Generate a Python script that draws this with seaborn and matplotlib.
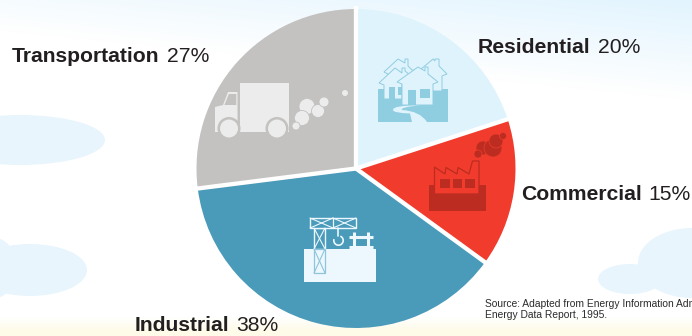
import numpy as np
import matplotlib
matplotlib.use("Agg")
import matplotlib.pyplot as plt
from matplotlib.patches import Circle, Ellipse, Polygon, Rectangle, PathPatch
from matplotlib.path import Path
import seaborn as sns

# Energy use by sector, percent
sectors = ["Residential", "Commercial", "Industrial", "Transportation"]
shares = [20, 15, 38, 27]
source_lines = ["Source: Adapted from Energy Information Administration, Annual",
                "Energy Data Report, 1995."]

palette = sns.color_palette(["#dff3fc", "#f13c2d", "#4a9aba", "#c3c2c0"])

sns.set_theme(style="white")
plt.rcParams["font.family"] = ["Liberation Sans", "DejaVu Sans"]

W, H = 692, 336
fig = plt.figure(figsize=(W / 100, H / 100), dpi=100)


def pixel_axes(zorder):
    """Full-figure axes whose units are pixels, origin top left."""
    a = fig.add_axes([0, 0, 1, 1], zorder=zorder)
    a.set_xlim(0, W)
    a.set_ylim(H, 0)
    a.axis("off")
    a.patch.set_alpha(0)
    return a


# Backdrop: pale sky fading to white, warm glow along the lower edge
bg = pixel_axes(0)
yy, xx = np.mgrid[0:H, 0:W]
sky = np.clip(1 - (yy + (W - xx) * 0.1) / 100, 0, 1)[..., None]
glow = np.clip((yy - 316) / 14, 0, 1)[..., None]
white = np.array([1.0, 1.0, 1.0])
sky_c = np.array([0xe2, 0xf4, 0xfe]) / 255
glow_c = np.array([0xfe, 0xfb, 0xe9]) / 255
img = white + (sky_c - white) * sky + (glow_c - white) * glow
bg.imshow(img, extent=(0, W, H, 0), aspect="auto", zorder=0)
bg.set_xlim(0, W)
bg.set_ylim(H, 0)

cloud = "#e8f5fd"
for (cx, cy, w, h) in [(20, 140, 170, 50), (30, 270, 114, 52), (-12, 268, 60, 64),
                       (692, 263, 108, 70), (630, 279, 64, 30)]:
    bg.add_patch(Ellipse((cx, cy), w, h, fc=cloud, ec="none", zorder=1))

# The pie itself
cx0, cy0, radius = 356, 168.5, 159.5
pie_ax = fig.add_axes([(cx0 - radius) / W, (H - cy0 - radius) / H,
                       2 * radius / W, 2 * radius / H], zorder=1)
wedges, _ = pie_ax.pie(shares, colors=palette, startangle=90, counterclock=False,
                       radius=1.0, wedgeprops={"linewidth": 0})
pie_ax.set_xlim(-1, 1)
pie_ax.set_ylim(-1, 1)
for w in wedges:
    w.set_clip_on(False)
    a = np.deg2rad(w.theta1)
    pie_ax.plot([0, 1.02 * np.cos(a)], [0, 1.02 * np.sin(a)], color="white",
                lw=3.1, solid_capstyle="butt", clip_on=False, zorder=5)

fg = pixel_axes(2)


def disc(x, y, r, fc, ec="none", lw=0.0):
    fg.add_patch(Circle((x, y), r, fc=fc, ec=ec, lw=lw))


def poly(pts, fc, ec="none", lw=0.0):
    fg.add_patch(Polygon(pts, closed=True, fc=fc, ec=ec, lw=lw, joinstyle="miter"))


def box(x0, y0, x1, y1, fc, ec="none", lw=0.0):
    fg.add_patch(Rectangle((x0, y0), x1 - x0, y1 - y0, fc=fc, ec=ec, lw=lw))


# Truck
pale_grey, grey = "#ebecEB", palette[3]
box(239.5, 83, 289, 132, pale_grey)
poly([(215, 132), (215, 107), (223, 105), (228, 92), (237.5, 92), (237.5, 132)], pale_grey)
poly([(224.5, 105), (228.8, 94), (236.3, 94), (236.3, 105)], grey)
for wx in (229, 277):
    disc(wx, 128.5, 11.5, grey)
    disc(wx, 128.5, 9, pale_grey)
for (sx, sy, r) in [(307, 106.5, 8), (302, 118, 7.5), (318, 111, 6.5), (324, 102, 5),
                    (296, 126, 4)]:
    disc(sx, sy, r, pale_grey, grey, 0.6)
disc(345, 93, 3, pale_grey)

# Houses
house_bg, house_line = palette[0], "#8fcde0"
box(378, 89, 448, 122, house_line)
poly([(398, 59), (384, 72), (388, 74), (388, 92), (428, 92), (428, 72), (412, 70),
      (408, 66), (408, 59), (405, 59), (405, 63)], house_bg, house_line, 0.7)
poly([(433, 59), (420, 70), (425, 74), (425, 91), (442, 91), (442, 76), (447, 74),
      (439, 66), (439, 59), (435, 59), (435, 61)], house_bg, house_line, 0.7)
poly([(395, 68), (379, 83), (384, 85), (384, 99), (402, 99), (402, 80), (410, 75),
      (405, 71), (405, 68), (402, 68), (402, 73)], house_bg, house_line, 0.7)
box(388.5, 87, 395, 99, house_line)
box(398, 87, 402, 95, house_line)
poly([(418, 67), (397, 82), (402, 84), (402, 105), (433, 105), (433, 84), (438, 82),
      (428, 74), (428, 67), (425, 67), (425, 71)], house_bg, house_line, 0.7)
box(408, 90, 416, 105, house_line)
box(420, 89, 430, 98, house_line)
road = Path([(420, 105.5), (393, 105), (393, 110),
             (393, 113), (410, 113.5), (412, 122),
             (427, 122), (420, 111), (402, 110),
             (400, 107), (420, 105.5), (420, 105.5)],
            [Path.MOVETO, Path.CURVE3, Path.CURVE3,
             Path.CURVE3, Path.CURVE3, Path.LINETO,
             Path.LINETO, Path.CURVE3, Path.CURVE3,
             Path.CURVE3, Path.CURVE3, Path.CLOSEPOLY])
fg.add_patch(PathPatch(road, fc=house_bg, ec="none"))

# Factory
red, dark = palette[1], "#bc2c20"
box(429, 185, 486, 211, dark)
poly([(434.5, 194), (434.5, 167), (445, 174), (446, 167.5), (457, 174), (458, 167.5), (469, 174),
      (472.5, 161), (479, 161), (479, 194)], red, dark, 0.9)
for wx in (440, 452.5, 465):
    box(wx, 179, wx + 9.5, 188, dark)
for (sx, sy, r) in [(483, 148, 7), (493, 148, 9), (496, 141, 7), (503, 136, 3.5), (478, 154, 4)]:
    disc(sx, sy, r, dark, red, 0.5)

# Crane and building site
steel, site = palette[2], "#ecf8fe"
box(304, 249, 376, 282, site)
box(314, 228, 325, 249, steel, site, 1.0)
box(314, 249, 325, 273, site, "#8fc4da", 0.9)
box(310, 218, 356, 228, steel, site, 1.0)
fg.plot([333, 333], [218, 228], color=site, lw=0.9)
for (x0, x1) in [(310, 333), (333, 356)]:
    fg.plot([x0, x1], [218, 228], color=site, lw=0.8)
    fg.plot([x0, x1], [228, 218], color=site, lw=0.8)
fg.plot([314, 325], [228, 249], color=site, lw=0.8)
fg.plot([314, 325], [249, 228], color=site, lw=0.8)
fg.plot([314, 325], [249, 273], color="#8fc4da", lw=0.8)
fg.plot([314, 325], [273, 249], color="#8fc4da", lw=0.8)
fg.plot([338, 338], [228, 236], color=site, lw=1.2)
t = np.deg2rad(np.linspace(-60, 190, 30))
fg.plot(338.5 + 4.7 * np.cos(t), 240.5 + 4.7 * np.sin(t), color=site, lw=1.2)
for vx in (354, 368):
    fg.plot([vx, vx], [232, 254], color=site, lw=2.2, solid_capstyle="butt")
for hy in (237, 247):
    fg.plot([349, 373], [hy, hy], color=site, lw=2.2, solid_capstyle="butt")

# Sector labels: bold name followed by a regular-weight share
ink = "#231f20"
label_pos = [(478, 53), (521, 200), (135, 331), (12, 62)]
renderer = fig.canvas.get_renderer()
for name, value, (lx, ly) in zip(sectors, shares, label_pos):
    t_name = fg.text(lx, ly, name, fontsize=15.2, fontweight="bold", color=ink, va="baseline")
    right = t_name.get_window_extent(renderer).x1
    fg.text(right + 7, ly, f"{value}%", fontsize=15.2, color=ink, va="baseline", clip_on=True)

for line, ly in zip(source_lines, (307, 318)):
    fg.text(485, ly, line, fontsize=7.4, color="#2c2a2a", va="baseline", clip_on=True)

fig.savefig("out.png", dpi=100)
